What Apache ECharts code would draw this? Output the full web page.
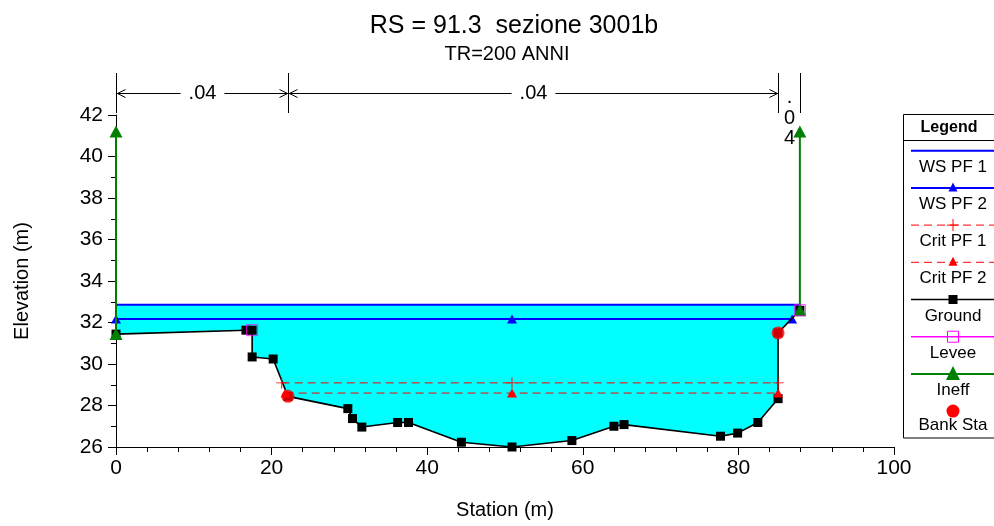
<!DOCTYPE html>
<html>
<head>
<meta charset="utf-8">
<script src="https://cdn.jsdelivr.net/npm/echarts@6/dist/echarts.min.js"></script>
<style>
  html, body { margin: 0; padding: 0; background: #fff; }
  #chart { width: 994px; height: 526px; }
</style>
</head>
<body>
<div id="chart"></div>
<script>
// Cross section RS 91.3 (sezione 3001b), TR = 200 anni
const titleText = 'RS = 91.3  sezione 3001b';
const subtitleText = 'TR=200 ANNI';

// Ground profile: station (m) and elevation (m)
const groundSta  = [0, 16.7, 17.5, 17.5, 20.2, 22.1, 29.8, 30.4, 31.6, 36.2, 37.6, 44.4, 50.9, 58.6, 64.0, 65.3, 77.7, 79.9, 82.5, 85.1, 85.1, 87.9];
const groundElev = [31.44, 31.63, 31.63, 30.34, 30.24, 28.44, 27.85, 27.37, 26.96, 27.18, 27.18, 26.23, 26.0, 26.31, 27.0, 27.08, 26.52, 26.67, 27.18, 28.33, 31.5, 32.59];

// Water surfaces
const wsPf1Elev = 32.86;
const wsPf1Sta  = [0, 87.9];
const wsPf2Elev = 32.17;
const wsPf2Sta  = [0, 50.9, 86.9];

// Critical depths
const critPf1Elev = 29.09;
const critPf1Sta  = [21.3, 50.9, 85.1];
const critPf2Elev = 28.6;
const critPf2Sta  = [21.8, 50.9, 85.1];

// Bank stations
const bankSta  = [22.1, 85.1];
const bankElev = [28.44, 31.5];

// Levees
const leveeSta  = [17.5, 87.9];
const leveeElev = [31.63, 32.59];

// Ineffective flow limits: station, lower and upper elevation
const ineffSta   = [0, 87.9];
const ineffLow   = [31.44, 32.59];
const ineffHigh  = [41.2, 41.2];

// Manning's n breaks and values
const nBreaks = [0, 22.1, 85.1, 87.9];
const nValues = [0.04, 0.04, 0.04];

// Axis ranges
const xMin = 0, xMax = 100, xStep = 20;
const yMin = 26, yMax = 42, yStep = 2;

const FONT = '"Liberation Sans", Arial, Helvetica, sans-serif';

const pairs = (xs, ys) => xs.map((x, i) => [x, Array.isArray(ys) ? ys[i] : ys]);

const groundPts = pairs(groundSta, groundElev);
const wsRight = wsPf1Sta[wsPf1Sta.length - 1];

// Flow area polygon: water surface on top, ground below
function waterPolygon() {
  const pts = [[wsPf1Sta[0], wsPf1Elev], [wsRight, wsPf1Elev]];
  for (let i = groundPts.length - 1; i >= 0; i--) {
    if (groundPts[i][0] <= wsRight) pts.push(groundPts[i]);
  }
  return pts;
}

const crisp = v => Math.round(v) + 0.5;

// Manning's n dimension lines above the plot
function renderNDims(params, api) {
  const a = api.value(0), b = api.value(1), n = api.value(2);
  const p0 = api.coord([a, yMax]);
  const p1 = api.coord([b, yMax]);
  const x0 = crisp(p0[0]), x1 = crisp(p1[0]);
  const top = p0[1];
  const yl = crisp(top - 22);
  const label = String(n).replace(/^0/, '');
  const stroke = { stroke: '#000', lineWidth: 1 };
  const children = [
    { type: 'line', shape: { x1: x0, y1: top - 42, x2: x0, y2: top - 2 }, style: stroke },
    { type: 'line', shape: { x1: x1, y1: top - 42, x2: x1, y2: top - 2 }, style: stroke }
  ];
  if (x1 - x0 > 40) {
    const cx = (x0 + x1) / 2;
    children.push(
      { type: 'line', shape: { x1: x0, y1: yl, x2: x1, y2: yl }, style: stroke },
      { type: 'polyline', shape: { points: [[x0 + 9, yl - 4], [x0 + 1, yl], [x0 + 9, yl + 4]] }, style: { stroke: '#000', lineWidth: 1, fill: null } },
      { type: 'polyline', shape: { points: [[x1 - 9, yl - 4], [x1 - 1, yl], [x1 - 9, yl + 4]] }, style: { stroke: '#000', lineWidth: 1, fill: null } },
      { type: 'text', x: cx, y: yl, style: { text: label, fill: '#000', font: '20px ' + FONT, align: 'center', verticalAlign: 'middle', backgroundColor: '#fff', padding: [0, 8] } }
    );
  } else {
    const cx = (x0 + x1) / 2;
    label.split('').forEach((ch, k) => {
      children.push({ type: 'text', x: cx, y: yl + 4 + 20.5 * k, style: { text: ch, fill: '#000', font: '20px ' + FONT, align: 'center', verticalAlign: 'middle' } });
    });
  }
  return { type: 'group', children };
}

const plusPath = 'path://M5.5,0h1v5.5h5.5v1h-5.5v5.5h-1v-5.5h-5.5v-1h5.5z';

const series = [
  {
    name: 'Flow area', type: 'custom', z: 1, silent: true,
    data: [[0, wsPf1Elev]],
    renderItem: (params, api) => ({
      type: 'polygon',
      shape: { points: waterPolygon().map(p => api.coord(p)) },
      style: { fill: '#00ffff', stroke: null }
    })
  },
  {
    name: 'WS PF 1', type: 'line', z: 3, data: pairs(wsPf1Sta, wsPf1Elev),
    showSymbol: false, lineStyle: { color: '#0000ff', width: 2 }
  },
  {
    name: 'WS PF 2', type: 'line', z: 3, data: pairs(wsPf2Sta, wsPf2Elev),
    symbol: 'triangle', symbolSize: [10, 9], showAllSymbol: true,
    lineStyle: { color: '#0000ff', width: 2 }, itemStyle: { color: '#0000ff' }
  },
  {
    name: 'Ground', type: 'line', z: 4, data: groundPts,
    symbol: 'rect', symbolSize: 9, showAllSymbol: true,
    lineStyle: { color: '#000', width: 1.6 }, itemStyle: { color: '#000' }
  },
  {
    name: 'Crit PF 1', type: 'line', z: 5, data: pairs(critPf1Sta, critPf1Elev),
    symbol: plusPath, symbolSize: 11, showAllSymbol: true,
    lineStyle: { color: '#ff0000', width: 1, type: [8, 5] }, itemStyle: { color: '#ff0000' }
  },
  {
    name: 'Crit PF 2', type: 'line', z: 5, data: pairs(critPf2Sta, critPf2Elev),
    symbol: 'triangle', symbolSize: [10, 9], showAllSymbol: true,
    lineStyle: { color: '#ff0000', width: 1, type: [8, 5] }, itemStyle: { color: '#ff0000' }
  },
  ...ineffSta.map((s, i) => ({
    name: 'Ineff', type: 'line', z: 6, data: [[s, ineffLow[i]], [s, ineffHigh[i]]],
    symbol: 'triangle', symbolSize: [13, 12], showAllSymbol: true,
    lineStyle: { color: '#008000', width: 2 }, itemStyle: { color: '#008000' }
  })),
  {
    name: 'Levee', type: 'scatter', z: 7, data: pairs(leveeSta, leveeElev),
    symbol: 'rect', symbolSize: 11,
    itemStyle: { color: 'rgba(0,0,0,0)', borderColor: '#ff00ff', borderWidth: 1 }
  },
  {
    name: 'Bank Sta', type: 'scatter', z: 8, data: pairs(bankSta, bankElev),
    symbol: 'circle', symbolSize: 13, itemStyle: { color: '#ff0000' }
  },
  {
    name: 'n values', type: 'custom', z: 9, clip: false, silent: true,
    data: nValues.map((n, i) => [nBreaks[i], nBreaks[i + 1], n]),
    renderItem: renderNDims
  }
];

// Legend block drawn at the right edge
function legendGraphic() {
  const left = 903.5, top = 114.5, right = 1000;
  const lx0 = 911, lx1 = 994, sx = 953;
  const items = [
    { name: 'WS PF 1', color: '#0000ff', width: 2 },
    { name: 'WS PF 2', color: '#0000ff', width: 2, sym: 'tri', size: 9 },
    { name: 'Crit PF 1', color: '#ff0000', width: 1, dash: [8, 5], sym: 'plus' },
    { name: 'Crit PF 2', color: '#ff0000', width: 1, dash: [8, 5], sym: 'tri', size: 9 },
    { name: 'Ground', color: '#000', width: 1.6, sym: 'rect' },
    { name: 'Levee', color: '#ff00ff', width: 1.5, sym: 'emptyRect' },
    { name: 'Ineff', color: '#008000', width: 2, sym: 'tri', size: 14 },
    { name: 'Bank Sta', color: '#ff0000', sym: 'circle' }
  ];
  const els = [
    { type: 'rect', shape: { x: left, y: top, width: right - left, height: 323.5 }, style: { fill: '#fff', stroke: '#000', lineWidth: 1 } },
    { type: 'line', shape: { x1: left, y1: 140.5, x2: right, y2: 140.5 }, style: { stroke: '#000', lineWidth: 1 } },
    { type: 'text', x: 949, y: 127.5, style: { text: 'Legend', font: 'bold 16px ' + FONT, fill: '#000', align: 'center', verticalAlign: 'middle' } }
  ];
  items.forEach((it, i) => {
    const ly = 150.7 + 37.2 * i;
    const ty = it.sym === 'circle' ? ly + 14 : ly + 16.5;
    if (it.width) {
      els.push({ type: 'line', shape: { x1: lx0, y1: ly, x2: lx1, y2: ly }, style: { stroke: it.color, lineWidth: it.width, lineDash: it.dash || null } });
    }
    if (it.sym === 'tri') {
      const s = it.size;
      els.push({ type: 'polygon', shape: { points: [[sx, ly - s / 2 - 1], [sx - s / 2, ly + s / 2 - 1], [sx + s / 2, ly + s / 2 - 1]] }, style: { fill: it.color } });
    } else if (it.sym === 'plus') {
      els.push({ type: 'line', shape: { x1: sx - 6, y1: ly, x2: sx + 6, y2: ly }, style: { stroke: it.color, lineWidth: 1 } });
      els.push({ type: 'line', shape: { x1: sx, y1: ly - 6, x2: sx, y2: ly + 6 }, style: { stroke: it.color, lineWidth: 1 } });
    } else if (it.sym === 'rect') {
      els.push({ type: 'rect', shape: { x: sx - 4.5, y: ly - 4.5, width: 9, height: 9 }, style: { fill: '#000' } });
    } else if (it.sym === 'emptyRect') {
      els.push({ type: 'rect', shape: { x: sx - 5.5, y: ly - 5.5, width: 11, height: 11 }, style: { fill: null, stroke: it.color, lineWidth: 1 } });
    } else if (it.sym === 'circle') {
      els.push({ type: 'circle', shape: { cx: sx, cy: ly, r: 6.5 }, style: { fill: it.color } });
    }
    els.push({ type: 'text', x: sx, y: ty, style: { text: it.name, font: '17px ' + FONT, fill: '#000', align: 'center', verticalAlign: 'middle' } });
  });
  return els;
}

const chart = echarts.init(document.getElementById('chart'), null, { renderer: 'canvas' });
chart.setOption({
  animation: false,
  backgroundColor: '#fff',
  textStyle: { fontFamily: FONT },
  grid: { left: 116, right: 100, top: 115, bottom: 79, containLabel: false },
  xAxis: {
    type: 'value', min: xMin, max: xMax, interval: xStep,
    name: 'Station (m)', nameLocation: 'middle', nameGap: 53,
    nameTextStyle: { fontSize: 20, color: '#000', fontFamily: FONT },
    axisLine: { show: true, onZero: false, lineStyle: { color: '#000', width: 1 } },
    axisTick: { show: true, length: 8, lineStyle: { color: '#000' } },
    minorTick: { show: true, splitNumber: 5, length: 5, lineStyle: { color: '#000' } },
    axisLabel: { fontSize: 21, color: '#000', margin: 11, fontFamily: FONT },
    splitLine: { show: false }
  },
  yAxis: {
    type: 'value', min: yMin, max: yMax, interval: yStep,
    name: 'Elevation (m)', nameLocation: 'middle', nameGap: 84, nameRotate: 90,
    nameTextStyle: { fontSize: 20, color: '#000', fontFamily: FONT },
    axisLine: { show: true, onZero: false, lineStyle: { color: '#000', width: 1 } },
    axisTick: { show: true, length: 8, lineStyle: { color: '#000' } },
    minorTick: { show: true, splitNumber: 2, length: 5, lineStyle: { color: '#000' } },
    axisLabel: { fontSize: 21, color: '#000', margin: 13, fontFamily: FONT },
    splitLine: { show: false }
  },
  graphic: [
    { type: 'text', x: 514, y: 26, style: { text: titleText, font: '25px ' + FONT, fill: '#000', align: 'center', verticalAlign: 'middle' } },
    { type: 'text', x: 507, y: 54, style: { text: subtitleText, font: '20px ' + FONT, fill: '#000', align: 'center', verticalAlign: 'middle' } },
    ...legendGraphic()
  ],
  series
});
</script>
</body>
</html>
